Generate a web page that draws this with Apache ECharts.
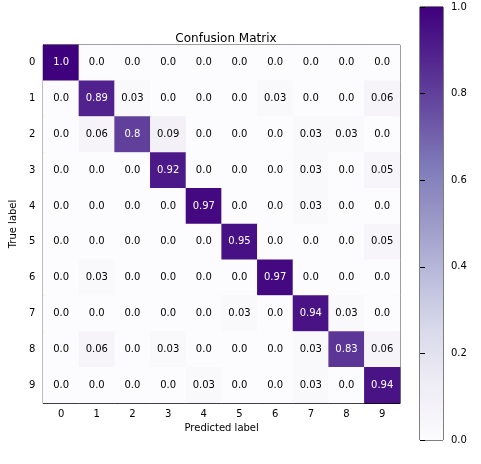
<!DOCTYPE html>
<html>
<head>
<meta charset="utf-8">
<script src="https://cdn.jsdelivr.net/npm/echarts@6/dist/echarts.min.js"></script>
</head>
<body style="margin:0;background:#fff">
<div id="main" style="width:481px;height:464px;"></div>
<script>
const classes = ['0','1','2','3','4','5','6','7','8','9'];
const matrix = [
  [1.0, 0, 0, 0, 0, 0, 0, 0, 0, 0],
  [0, 0.89, 0.03, 0, 0, 0, 0.03, 0, 0, 0.06],
  [0, 0.06, 0.8, 0.09, 0, 0, 0, 0.03, 0.03, 0],
  [0, 0, 0, 0.92, 0, 0, 0, 0.03, 0, 0.05],
  [0, 0, 0, 0, 0.97, 0, 0, 0.03, 0, 0],
  [0, 0, 0, 0, 0, 0.95, 0, 0, 0, 0.05],
  [0, 0.03, 0, 0, 0, 0, 0.97, 0, 0, 0],
  [0, 0, 0, 0, 0, 0.03, 0, 0.94, 0.03, 0],
  [0, 0.06, 0, 0.03, 0, 0, 0, 0.03, 0.83, 0.06],
  [0, 0, 0, 0, 0.03, 0, 0, 0.03, 0, 0.94]
];
const purples = ['#fcfbfd','#efedf5','#dadaeb','#bcbddc','#9e9ac8','#807dba','#6a51a3','#54278f','#3f007d'];

const cells = [];
matrix.forEach((row, i) => row.forEach((v, j) => cells.push([j, i, v])));
const fmt = v => Number.isInteger(v) ? v.toFixed(1) : String(v);
const font = 'DejaVu Sans';

const chart = echarts.init(document.getElementById('main'));
chart.setOption({
  animation: false,
  textStyle: { fontFamily: font },
  title: { text: 'Confusion Matrix', left: 221, top: 28, textAlign: 'center',
    textStyle: { fontSize: 12, fontWeight: 'normal', color: '#000' } },
  grid: [
    { left: 42, top: 45, width: 358, height: 358, show: true, borderColor: '#000', borderWidth: 1 },
    { left: 420, top: 7, width: 23, height: 433, show: true, borderColor: '#000', borderWidth: 1 }
  ],
  xAxis: [
    { type: 'category', data: classes, gridIndex: 0, name: 'Predicted label', nameLocation: 'middle', nameGap: 20,
      nameTextStyle: { fontSize: 10, color: '#000' },
      axisLine: { lineStyle: { color: '#000' } }, axisTick: { alignWithLabel: true, lineStyle: { color: '#000' } },
      axisLabel: { fontSize: 10, color: '#000', margin: 6 }, splitLine: { show: false } },
    { type: 'value', gridIndex: 1, show: false, min: 0, max: 1 }
  ],
  yAxis: [
    { type: 'category', data: classes, inverse: true, gridIndex: 0, name: 'True label', nameLocation: 'middle', nameGap: 22,
      nameTextStyle: { fontSize: 10, color: '#000' },
      axisLine: { lineStyle: { color: '#000' } }, axisTick: { alignWithLabel: true, lineStyle: { color: '#000' } },
      axisLabel: { fontSize: 10, color: '#000', margin: 8 }, splitLine: { show: false } },
    { type: 'value', gridIndex: 1, position: 'right', min: 0, max: 1, interval: 0.2,
      axisLine: { show: false }, axisTick: { show: true, lineStyle: { color: '#000' } },
      axisLabel: { fontSize: 10, color: '#000', formatter: v => v.toFixed(1) }, splitLine: { show: false } }
  ],
  visualMap: { show: false, min: 0, max: 1, seriesIndex: 0, inRange: { color: purples } },
  graphic: [{
    type: 'rect', z: 0, shape: { x: 420, y: 7, width: 23, height: 433 },
    style: { fill: new echarts.graphic.LinearGradient(0, 1, 0, 0,
      purples.map((c, k) => ({ offset: k / (purples.length - 1), color: c }))) }
  }],
  series: [{
    type: 'heatmap', xAxisIndex: 0, yAxisIndex: 0, data: cells,
    label: { show: true, fontSize: 10, fontFamily: font,
      formatter: p => fmt(p.value[2]) },
    labelLayout: null
  }]
});
// white text on dark cells
chart.setOption({ series: [{ data: cells.map(c => ({ value: c,
  label: { color: c[2] > 0.5 ? '#fff' : '#000' } })) }] });
</script>
</body>
</html>
